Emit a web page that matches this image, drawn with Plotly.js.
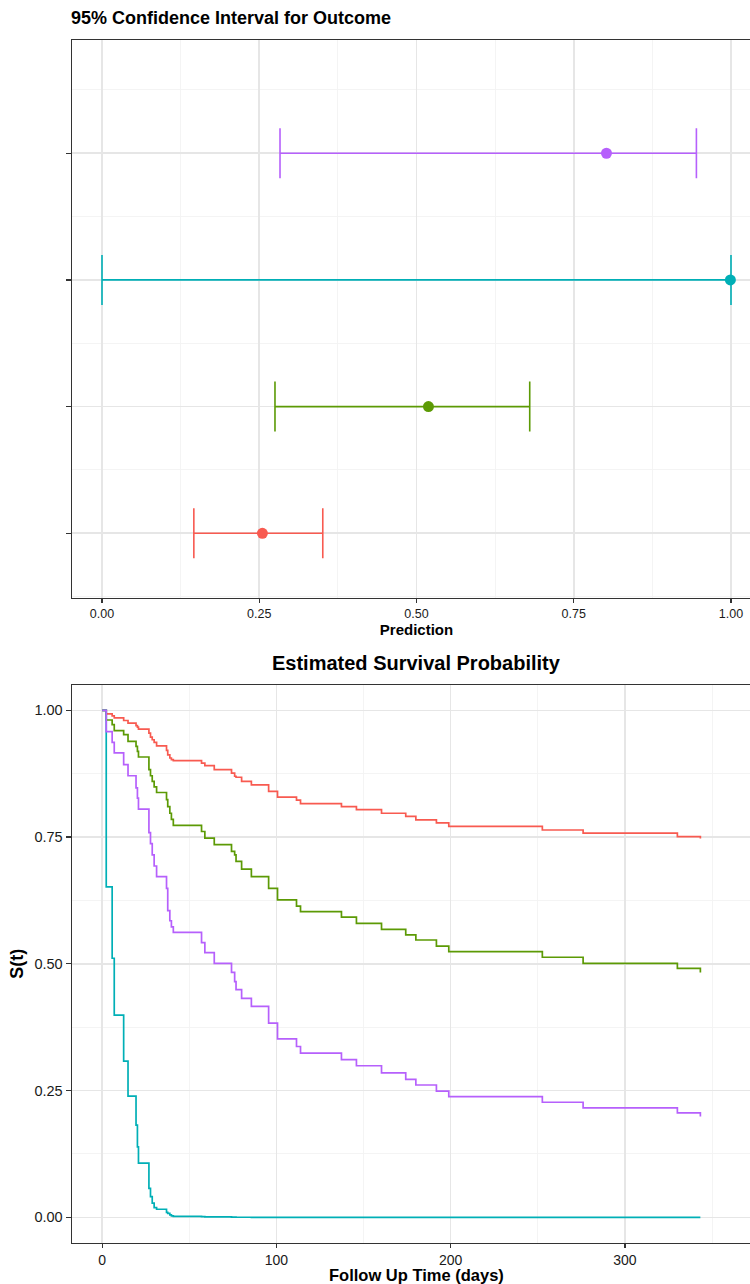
<!DOCTYPE html>
<html>
<head>
<meta charset="utf-8">
<script src="https://cdn.plot.ly/plotly-3.0.1.min.js"></script>
<style>
html, body { margin: 0; padding: 0; overflow: hidden; background: #fff; }
#chart { width: 762px; height: 1284px; }
</style>
</head>
<body>
<div id="chart"></div>
<script>
// ---------- Panel 1: 95% confidence intervals ----------
const groupNames = ["Group 1", "Group 2", "Group 3", "Group 4"];
const groupRows = [1, 2, 3, 4];
const groupColors = ["#F85A50", "#5C9A05", "#00AFB6", "#B660FC"];
const predPoint = [0.255, 0.519, 0.999, 0.802];
const predLower = [0.146, 0.275, 0.000, 0.283];
const predUpper = [0.351, 0.680, 1.000, 0.945];

// ---------- Panel 2: estimated survival ----------
const followTimes = [0, 2.3, 5.7, 6.9, 12.3, 14.8, 19.4, 20.2, 20.8, 26.8, 27.7, 28.7, 29.8, 31.2,
  36.9, 37.6, 38.8, 39.7, 40.8, 57.0, 58.9, 64.3, 74.2, 76.0, 76.8, 80.0, 85.6, 95.5, 100.6,
  111.5, 113.8, 137.3, 145.9, 160.3, 174.2, 180.0, 191.8, 198.9, 252.6, 276.0, 330.1, 343.3];
const survGroup1 = [1.000, 0.993, 0.989, 0.985, 0.980, 0.975, 0.970, 0.967, 0.963, 0.955, 0.947, 0.942, 0.937, 0.930,
  0.921, 0.912, 0.906, 0.903, 0.901, 0.896, 0.891, 0.883, 0.876, 0.870, 0.868, 0.860, 0.853, 0.840, 0.829,
  0.823, 0.816, 0.810, 0.804, 0.797, 0.791, 0.784, 0.778, 0.771, 0.764, 0.758, 0.751, 0.747];
const survGroup2 = [1.000, 0.981, 0.972, 0.960, 0.952, 0.939, 0.929, 0.919, 0.908, 0.883, 0.871, 0.860, 0.849, 0.838,
  0.824, 0.810, 0.797, 0.785, 0.773, 0.761, 0.748, 0.735, 0.722, 0.715, 0.702, 0.687, 0.672, 0.649, 0.626,
  0.614, 0.603, 0.592, 0.580, 0.568, 0.557, 0.547, 0.535, 0.524, 0.513, 0.501, 0.491, 0.483];
const survGroup3 = [1.000, 0.652, 0.511, 0.399, 0.308, 0.239, 0.182, 0.139, 0.107, 0.057, 0.041, 0.028, 0.019, 0.016,
  0.010, 0.008, 0.005, 0.003, 0.002, 0.0015, 0.001, 0.0008, 0.0004, 0.0003, 0.0002, 0.0002, 0.0001, 0.0001, 0.0001,
  0.0001, 0.0001, 0.0, 0.0, 0.0, 0.0, 0.0, 0.0, 0.0, 0.0, 0.0, 0.0, 0.0];
const survGroup4 = [1.000, 0.958, 0.937, 0.916, 0.893, 0.871, 0.847, 0.827, 0.805, 0.759, 0.737, 0.715, 0.693, 0.672,
  0.649, 0.605, 0.585, 0.573, 0.562, 0.542, 0.522, 0.501, 0.483, 0.465, 0.449, 0.432, 0.416, 0.383, 0.352,
  0.337, 0.324, 0.311, 0.299, 0.285, 0.272, 0.261, 0.249, 0.238, 0.227, 0.216, 0.206, 0.199];
const survSeries = [survGroup1, survGroup2, survGroup3, survGroup4];

const xTickVals1 = [0, 0.25, 0.5, 0.75, 1];
const xTickText1 = ["0.00", "0.25", "0.50", "0.75", "1.00"];
const yTickVals2 = [0, 0.25, 0.5, 0.75, 1];
const yTickText2 = ["0.00", "0.25", "0.50", "0.75", "1.00"];
const xTickVals2 = [0, 100, 200, 300];

const regular = "Liberation Sans, Arial, Helvetica, sans-serif";
const gridMajor = "#E6E6E6";
const gridMinor = "#F3F3F3";
const frame = "#333333";

const traces = [];
// CI traces
for (let i = 0; i < groupNames.length; i++) {
  traces.push({
    type: "scatter", mode: "markers",
    x: [predPoint[i]], y: [groupRows[i]],
    xaxis: "x", yaxis: "y",
    name: groupNames[i], showlegend: false,
    marker: { color: groupColors[i], size: 11 },
    error_x: {
      type: "data", symmetric: false,
      array: [predUpper[i] - predPoint[i]],
      arrayminus: [predPoint[i] - predLower[i]],
      color: groupColors[i], thickness: 1.6, width: 25
    },
    hoverinfo: "x"
  });
}
// Survival traces
for (let i = 0; i < groupNames.length; i++) {
  traces.push({
    type: "scatter", mode: "lines",
    x: followTimes, y: survSeries[i],
    xaxis: "x2", yaxis: "y2",
    name: groupNames[i], showlegend: false,
    line: { color: groupColors[i], width: 1.7, shape: "hv" }
  });
}

const H = 1284, W = 762;
const layout = {
  width: W, height: H,
  margin: { l: 0, r: 0, t: 0, b: 0 },
  paper_bgcolor: "#ffffff", plot_bgcolor: "#ffffff",
  showlegend: false,
  title: {
    text: "<b>95% Confidence Interval for Outcome</b>",
    x: 71 / W, xanchor: "left", xref: "paper",
    y: 1 - 18 / H, yanchor: "middle", yref: "paper",
    font: { family: regular, size: 18, color: "#000" }
  },
  xaxis: {
    domain: [72 / W, 761 / W], anchor: "y",
    range: [-0.0477, 1.0477],
    tickmode: "array", tickvals: xTickVals1, ticktext: xTickText1,
    ticks: "outside", ticklen: 4, tickwidth: 1.2, tickcolor: frame,
    tickfont: { family: regular, size: 12.5, color: "#1a1a1a" },
    showgrid: true, gridcolor: gridMajor, gridwidth: 1.6,
    minor: { tickmode: "linear", tick0: 0.125, dtick: 0.25, showgrid: true, gridcolor: gridMinor, gridwidth: 0.9, ticks: "" },
    showline: true, linecolor: frame, linewidth: 1.4, mirror: true,
    zeroline: false,
    title: { text: "<b>Prediction</b>", font: { family: regular, size: 15, color: "#000" }, standoff: 4 },
    automargin: false
  },
  yaxis: {
    domain: [1 - 598 / H, 1 - 40 / H], anchor: "x",
    range: [0.489, 4.894],
    tickmode: "array", tickvals: groupRows, ticktext: ["", "", "", ""],
    showticklabels: false,
    ticks: "outside", ticklen: 5, tickwidth: 1.2, tickcolor: frame,
    showgrid: true, gridcolor: gridMajor, gridwidth: 1.6,
    minor: { tickmode: "linear", tick0: 0.5, dtick: 1, showgrid: true, gridcolor: gridMinor, gridwidth: 0.9, ticks: "" },
    showline: true, linecolor: frame, linewidth: 1.4, mirror: true,
    zeroline: false, automargin: false
  },
  xaxis2: {
    domain: [72 / W, 761 / W], anchor: "y2",
    range: [-17.35, 378.1],
    tickmode: "array", tickvals: xTickVals2,
    ticks: "outside", ticklen: 4, tickwidth: 1.2, tickcolor: frame,
    tickfont: { family: regular, size: 14, color: "#1a1a1a" },
    showgrid: true, gridcolor: gridMajor, gridwidth: 1.6,
    minor: { tickmode: "linear", tick0: 50, dtick: 100, showgrid: true, gridcolor: gridMinor, gridwidth: 0.9, ticks: "" },
    showline: true, linecolor: frame, linewidth: 1.4, mirror: true,
    zeroline: false,
    automargin: false
  },
  yaxis2: {
    domain: [1 - 1242.7 / H, 1 - 685 / H], anchor: "x2",
    range: [-0.05, 1.05],
    tickmode: "array", tickvals: yTickVals2, ticktext: yTickText2,
    ticks: "outside", ticklen: 5, tickwidth: 1.2, tickcolor: frame,
    tickfont: { family: regular, size: 14.5, color: "#1a1a1a" },
    showgrid: true, gridcolor: gridMajor, gridwidth: 1.6,
    minor: { tickmode: "linear", tick0: 0.125, dtick: 0.25, showgrid: true, gridcolor: gridMinor, gridwidth: 0.9, ticks: "" },
    showline: true, linecolor: frame, linewidth: 1.4, mirror: true,
    zeroline: false,
    title: { text: "<b>S(t)</b>", font: { family: regular, size: 18, color: "#000" }, standoff: 6 },
    automargin: false
  },
  annotations: [{
    text: "<b>Estimated Survival Probability</b>",
    xref: "paper", yref: "paper",
    x: 416.5 / W, y: 1 - 663 / H, xanchor: "center", yanchor: "middle",
    showarrow: false,
    font: { family: regular, size: 20, color: "#000" }
  }, {
    text: "<b>Follow Up Time (days)</b>",
    xref: "paper", yref: "paper",
    x: 416.5 / W, y: 1 - 1275 / H, xanchor: "center", yanchor: "middle",
    showarrow: false,
    font: { family: regular, size: 16.5, color: "#000" }
  }]
};

Plotly.newPlot("chart", traces, layout, { displayModeBar: false, staticPlot: true });
</script>
</body>
</html>
